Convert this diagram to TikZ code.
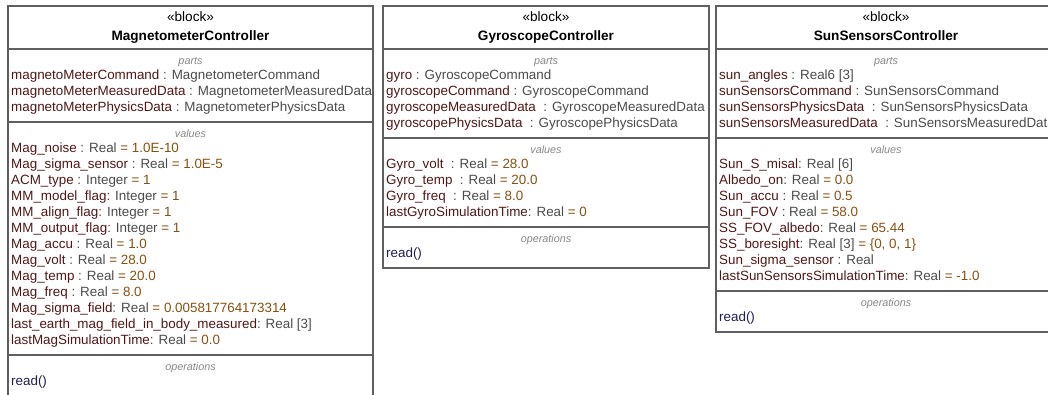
\documentclass[tikz,border=0pt]{standalone}
\usepackage{fontspec}
\setmainfont{Liberation Sans}
\usetikzlibrary{positioning}
\definecolor{FrameGray}{RGB}{95,95,95}
\definecolor{NameRed}{RGB}{80,22,22}
\definecolor{TypeGray}{RGB}{75,75,75}
\definecolor{ValBrown}{RGB}{135,80,15}
\definecolor{LabelGray}{RGB}{135,135,135}
\definecolor{OpBlue}{RGB}{30,30,85}
\newcommand{\attname}[1]{\textcolor{NameRed}{#1}}
\newcommand{\atttype}[1]{\textcolor{TypeGray}{#1}}
\newcommand{\attval}[1]{\textcolor{ValBrown}{#1}}

\begin{document}
\begin{tikzpicture}[x=1pt,y=-1pt,
  blockframe/.style={draw=FrameGray,line width=1.1pt},
  row/.style={anchor=base west,inner sep=0pt,font=\fontsize{13.4}{15}\selectfont},
  complabel/.style={anchor=base,inner sep=0pt,text=LabelGray,font=\fontsize{10.8}{12}\selectfont\itshape},
  stereo/.style={anchor=base,inner sep=0pt,font=\fontsize{13.6}{15}\selectfont},
  blockname/.style={anchor=base,inner sep=0pt,font=\fontsize{13.6}{15}\selectfont\bfseries}]
  \useasboundingbox (0,0) rectangle (1048,394);
  \clip (0,0) rectangle (1048,394);

  % MagnetometerController
  \draw[blockframe] (8,6) rectangle (373,396);
  \draw[blockframe] (8,49) -- (373,49) (8,122) -- (373,122) (8,355) -- (373,355);
  \node[stereo] (mag-stereo) at (190.5,21.5) {«block»};
  \node[blockname] (mag-name) at (190.5,40.5) {MagnetometerController};
  \node[complabel] (mag-parts) at (190.5,64) {parts};
  \foreach \txt [count=\i] in {
    {\attname{magnetoMeterCommand} \atttype{: MagnetometerCommand}},
    {\attname{magnetoMeterMeasuredData} \atttype{: MagnetometerMeasuredData}},
    {\attname{magnetoMeterPhysicsData} \atttype{: MagnetometerPhysicsData}}}
    \node[row] (mag-p\i) at (11,63+16*\i) {\txt};
  \node[complabel] (mag-values) at (190.5,137) {values};
  \foreach \txt [count=\i] in {
    {\attname{Mag\_noise} \atttype{: Real} \attval{= 1.0E-10}},
    {\attname{Mag\_sigma\_sensor} \atttype{: Real} \attval{= 1.0E-5}},
    {\attname{ACM\_type} \atttype{: Integer} \attval{= 1}},
    {\attname{MM\_model\_flag}\atttype{: Integer} \attval{= 1}},
    {\attname{MM\_align\_flag}\atttype{: Integer} \attval{= 1}},
    {\attname{MM\_output\_flag}\atttype{: Integer} \attval{= 1}},
    {\attname{Mag\_accu} \atttype{: Real} \attval{= 1.0}},
    {\attname{Mag\_volt} \atttype{: Real} \attval{= 28.0}},
    {\attname{Mag\_temp} \atttype{: Real} \attval{= 20.0}},
    {\attname{Mag\_freq} \atttype{: Real} \attval{= 8.0}},
    {\attname{Mag\_sigma\_field}\atttype{: Real} \attval{= 0.005817764173314}},
    {\attname{last\_earth\_mag\_field\_in\_body\_measured}\atttype{: Real [3]}},
    {\attname{lastMagSimulationTime}\atttype{: Real} \attval{= 0.0}}}
    \node[row] (mag-v\i) at (11,136+16*\i) {\txt};
  \node[complabel] (mag-ops) at (190.5,370) {operations};
  \node[row,text=OpBlue] (mag-read) at (11,385) {read()};

  % GyroscopeController
  \draw[blockframe] (383,6) rectangle (709,268);
  \draw[blockframe] (383,49) -- (709,49) (383,138) -- (709,138) (383,227) -- (709,227);
  \node[stereo] (gyro-stereo) at (546,21.5) {«block»};
  \node[blockname] (gyro-name) at (546,40.5) {GyroscopeController};
  \node[complabel] (gyro-parts) at (546,64) {parts};
  \foreach \txt [count=\i] in {
    {\attname{gyro} \atttype{: GyroscopeCommand}},
    {\attname{gyroscopeCommand} \atttype{: GyroscopeCommand}},
    {\attname{gyroscopeMeasuredData} \ \atttype{: GyroscopeMeasuredData}},
    {\attname{gyroscopePhysicsData} \ \atttype{: GyroscopePhysicsData}}}
    \node[row] (gyro-p\i) at (386,63+16*\i) {\txt};
  \node[complabel] (gyro-values) at (546,153) {values};
  \foreach \txt [count=\i] in {
    {\attname{Gyro\_volt} \ \atttype{: Real} \attval{= 28.0}},
    {\attname{Gyro\_temp} \ \atttype{: Real} \attval{= 20.0}},
    {\attname{Gyro\_freq} \ \atttype{: Real} \attval{= 8.0}},
    {\attname{lastGyroSimulationTime}\atttype{: Real} \attval{= 0}}}
    \node[row] (gyro-v\i) at (386,152+16*\i) {\txt};
  \node[complabel] (gyro-ops) at (546,242) {operations};
  \node[row,text=OpBlue] (gyro-read) at (386,257) {read()};

  % SunSensorsController
  \draw[blockframe] (716,6) rectangle (1056,332);
  \draw[blockframe] (716,49) -- (1056,49) (716,138) -- (1056,138) (716,291) -- (1056,291);
  \node[stereo] (sun-stereo) at (886,21.5) {«block»};
  \node[blockname] (sun-name) at (886,40.5) {SunSensorsController};
  \node[complabel] (sun-parts) at (886,64) {parts};
  \foreach \txt [count=\i] in {
    {\attname{sun\_angles} \atttype{: Real6 [3]}},
    {\attname{sunSensorsCommand} \atttype{: SunSensorsCommand}},
    {\attname{sunSensorsPhysicsData} \ \atttype{: SunSensorsPhysicsData}},
    {\attname{sunSensorsMeasuredData} \ \atttype{: SunSensorsMeasuredData}}}
    \node[row] (sun-p\i) at (719,63+16*\i) {\txt};
  \node[complabel] (sun-values) at (886,153) {values};
  \foreach \txt [count=\i] in {
    {\attname{Sun\_S\_misal}\atttype{: Real [6]}},
    {\attname{Albedo\_on}\atttype{: Real} \attval{= 0.0}},
    {\attname{Sun\_accu} \atttype{: Real} \attval{= 0.5}},
    {\attname{Sun\_FOV} \atttype{: Real} \attval{= 58.0}},
    {\attname{SS\_FOV\_albedo}\atttype{: Real} \attval{= 65.44}},
    {\attname{SS\_boresight}\atttype{: Real [3]} \attval{= \{0, 0, 1\}}},
    {\attname{Sun\_sigma\_sensor} \atttype{: Real}},
    {\attname{lastSunSensorsSimulationTime}\atttype{: Real} \attval{= -1.0}}}
    \node[row] (sun-v\i) at (719,152+16*\i) {\txt};
  \node[complabel] (sun-ops) at (886,306) {operations};
  \node[row,text=OpBlue] (sun-read) at (719,321) {read()};
\end{tikzpicture}
\end{document}
